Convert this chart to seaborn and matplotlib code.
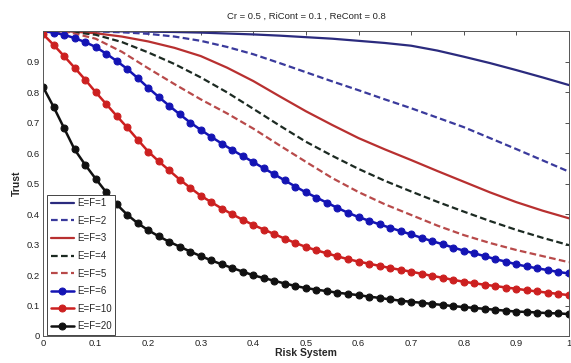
import matplotlib
matplotlib.use('Agg')
import matplotlib.pyplot as plt
import seaborn as sns

# x grids: plain lines were read every 0.05, marker lines every 0.02
x_line = [0.00, 0.05, 0.10, 0.15, 0.20, 0.25, 0.30, 0.35, 0.40, 0.45, 0.50,
          0.55, 0.60, 0.65, 0.70, 0.75, 0.80, 0.85, 0.90, 0.95, 1.00]
x_mark = [i / 50 for i in range(51)]

ef1 = [1.000, 1.000, 1.000, 0.999, 0.998, 0.997, 0.995, 0.992, 0.989, 0.985, 0.980,
       0.975, 0.968, 0.961, 0.952, 0.936, 0.916, 0.895, 0.872, 0.848, 0.823]
ef2 = [1.000, 1.000, 0.999, 0.996, 0.991, 0.982, 0.968, 0.948, 0.924, 0.895, 0.865,
       0.835, 0.806, 0.776, 0.747, 0.716, 0.685, 0.649, 0.613, 0.576, 0.539]
ef3 = [1.000, 0.999, 0.993, 0.982, 0.966, 0.945, 0.918, 0.880, 0.836, 0.786, 0.737,
       0.692, 0.649, 0.612, 0.577, 0.541, 0.506, 0.471, 0.439, 0.411, 0.386]
ef4 = [1.000, 0.998, 0.988, 0.964, 0.930, 0.892, 0.848, 0.799, 0.745, 0.690, 0.637,
       0.591, 0.548, 0.509, 0.474, 0.440, 0.408, 0.377, 0.348, 0.322, 0.298]
ef5 = [1.000, 0.996, 0.975, 0.932, 0.878, 0.826, 0.776, 0.730, 0.680, 0.625, 0.571,
       0.518, 0.472, 0.432, 0.397, 0.362, 0.331, 0.305, 0.282, 0.262, 0.242]

ef6 = [1.000, 0.995, 0.988, 0.977, 0.964, 0.948, 0.926, 0.902, 0.876, 0.846,
       0.814, 0.784, 0.755, 0.727, 0.700, 0.676, 0.653, 0.631, 0.610, 0.590,
       0.570, 0.550, 0.530, 0.510, 0.490, 0.471, 0.454, 0.437, 0.420, 0.404,
       0.390, 0.378, 0.366, 0.355, 0.344, 0.333, 0.322, 0.311, 0.301, 0.290,
       0.280, 0.271, 0.262, 0.252, 0.244, 0.235, 0.228, 0.222, 0.216, 0.210, 0.205]
ef10 = [0.990, 0.955, 0.918, 0.880, 0.841, 0.800, 0.761, 0.722, 0.684, 0.644,
        0.605, 0.573, 0.543, 0.513, 0.486, 0.460, 0.439, 0.418, 0.399, 0.381,
        0.364, 0.349, 0.334, 0.319, 0.305, 0.292, 0.281, 0.271, 0.261, 0.252,
        0.244, 0.237, 0.230, 0.223, 0.217, 0.211, 0.204, 0.197, 0.191, 0.184,
        0.178, 0.173, 0.168, 0.164, 0.159, 0.155, 0.150, 0.146, 0.142, 0.138, 0.134]
ef20 = [0.817, 0.752, 0.682, 0.612, 0.562, 0.516, 0.472, 0.432, 0.398, 0.370,
        0.347, 0.327, 0.309, 0.293, 0.277, 0.262, 0.248, 0.235, 0.223, 0.211,
        0.199, 0.190, 0.181, 0.172, 0.164, 0.157, 0.152, 0.147, 0.142, 0.138,
        0.134, 0.129, 0.125, 0.120, 0.116, 0.112, 0.109, 0.105, 0.102, 0.098,
        0.095, 0.092, 0.089, 0.086, 0.083, 0.080, 0.079, 0.077, 0.075, 0.074, 0.072]

labels = ['E=F=1', 'E=F=2', 'E=F=3', 'E=F=4', 'E=F=5', 'E=F=6', 'E=F=10', 'E=F=20']

sns.set_style('white')
plt.rcParams['font.family'] = ['Liberation Sans', 'DejaVu Sans']

fig = plt.figure(figsize=(5.71, 3.63), dpi=100)
ax = fig.add_axes([0.0753, 0.0744, 0.921, 0.840])

# plain lines
styles = [
    (ef1, '#2b2b7e', '-'),
    (ef2, '#3a3a9c', (0, (3, 1.5))),
    (ef3, '#b83030', '-'),
    (ef4, '#1c2a22', (0, (3, 1.5))),
    (ef5, '#b84a4a', (0, (3, 1.5))),
]
for (vals, col, ls), lab in zip(styles, labels[:5]):
    sns.lineplot(x=x_line, y=vals, ax=ax, color=col, linestyle=ls,
                 linewidth=1.6, label=lab)

# marker lines
marked = [(ef6, '#1414b4'), (ef10, '#cc2020'), (ef20, '#111111')]
for (vals, col), lab in zip(marked, labels[5:]):
    sns.lineplot(x=x_mark, y=vals, ax=ax, color=col, linewidth=1.8,
                 marker='o', markersize=5, markeredgecolor=col, label=lab)

ax.set_xlim(0, 1)
ax.set_ylim(0, 1)
ax.set_xticks([0, 0.1, 0.2, 0.3, 0.4, 0.5, 0.6, 0.7, 0.8, 0.9, 1])
ax.set_xticklabels(['0', '0.1', '0.2', '0.3', '0.4', '0.5', '0.6', '0.7', '0.8', '0.9', '1'])
ax.set_yticks([0, 0.1, 0.2, 0.3, 0.4, 0.5, 0.6, 0.7, 0.8, 0.9])
ax.set_yticklabels(['0', '0.1', '0.2', '0.3', '0.4', '0.5', '0.6', '0.7', '0.8', '0.9'])
ax.tick_params(direction='in', length=3, width=0.6, labelsize=6.8, pad=2,
               top=True, right=True, colors='#333333', labelcolor='#222222')
for s in ax.spines.values():
    s.set_linewidth(0.7)
    s.set_color('#555555')

ax.set_title('Cr = 0.5 , RiCont = 0.1 , ReCont = 0.8', fontsize=6.8, pad=9)
ax.set_xlabel('Risk System', fontsize=7.5, fontweight='bold', labelpad=0)
ax.set_ylabel('Trust', fontsize=7.5, fontweight='bold', labelpad=4)

leg = ax.legend(loc='lower left', bbox_to_anchor=(0.008, 0.004), borderaxespad=0,
                fontsize=7, handlelength=2.4, handletextpad=0.3, labelspacing=0.78,
                borderpad=0.35, fancybox=False, framealpha=1, edgecolor='#444444')
leg.get_frame().set_linewidth(0.7)

fig.savefig('out.png', dpi=100)
